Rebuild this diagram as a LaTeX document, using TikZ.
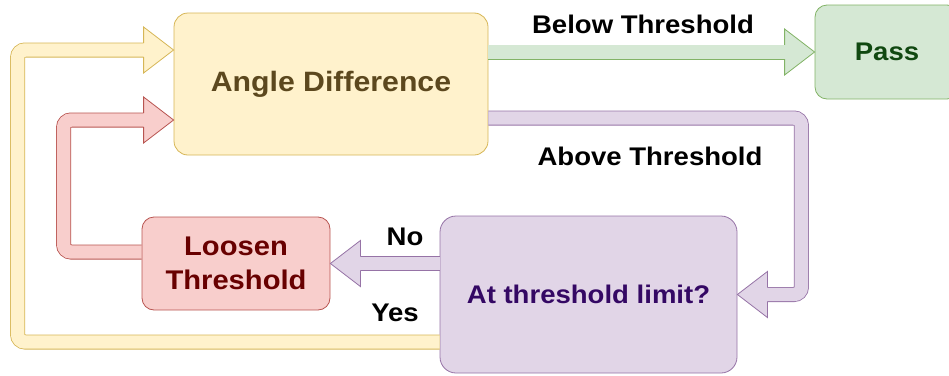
\documentclass[tikz,border=0pt]{standalone}
\usepackage{fontspec}
\setmainfont[FakeStretch=1.08]{Liberation Sans}
\definecolor{yelfill}{HTML}{FFF2CC}
\definecolor{yelline}{HTML}{D6B656}
\definecolor{grnfill}{HTML}{D5E8D4}
\definecolor{grnline}{HTML}{82B366}
\definecolor{purfill}{HTML}{E1D5E7}
\definecolor{purline}{HTML}{9673A6}
\definecolor{redfill}{HTML}{F8CECC}
\definecolor{redline}{HTML}{B85450}
\begin{document}
\begin{tikzpicture}[x=1pt,y=-1pt,
            box/.style={rectangle,draw,line width=0.8pt,rounded corners=14pt,align=center,font=\bfseries\fontsize{25.5}{30}\selectfont},
            fatline/.style={line width=0.8pt,double distance=13.4pt,rounded corners=7.5pt},
            lbl/.style={anchor=base,font=\bfseries\fontsize{25.5}{30}\selectfont},
            fathead/.pic={
                \path[pic actions,draw=none] (-30,-23) -- (0,0) -- (-30,23) -- cycle;
                \path[pic actions,fill=none] (-30,-7.1) -- (-30,-23) -- (0,0) -- (-30,23) -- (-30,7.1);
            }
        ]
            \useasboundingbox (0,0) rectangle (949,375);

            \node[box,fill=yelfill,draw=yelline,text={rgb,255:red,92;green,72;blue,30},minimum width=314pt,minimum height=142pt,font=\bfseries\fontsize{28}{32}\selectfont] (angle) at (331,84) {Angle Difference};
            \node[box,fill=grnfill,draw=grnline,text={rgb,255:red,16;green,72;blue,16},minimum width=144pt,minimum height=94pt,rounded corners=12pt] (pass) at (887,52) {Pass};
            \node[box,fill=purfill,draw=purline,text={rgb,255:red,52;green,8;blue,100},minimum width=297pt,minimum height=157pt,rounded corners=16pt] (limit) at (588.5,294.5) {At threshold limit?};
            \node[box,fill=redfill,draw=redline,text={rgb,255:red,104;green,0;blue,0},minimum width=188pt,minimum height=93pt,rounded corners=12pt,font=\bfseries\fontsize{27}{34}\selectfont] (loosen) at (236,263.5) {Loosen\\Threshold};

            \draw[fatline,draw=grnline,double=grnfill] (angle.east |- pass.west) -- ([xshift=-29pt]pass.west);
            \pic[fill=grnfill,draw=grnline,line width=0.8pt] at (pass.west) {fathead};

            \draw[fatline,draw=purline,double=purfill] ([yshift=-34pt]angle.east) -- ++(313,0) |- ([xshift=29pt]limit.east);
            \pic[rotate=180,fill=purfill,draw=purline,line width=0.8pt] at (limit.east) {fathead};

            \draw[fatline,draw=purline,double=purfill] (limit.west |- loosen.east) -- ([xshift=29pt]loosen.east);
            \pic[rotate=180,fill=purfill,draw=purline,line width=0.8pt] at (loosen.east) {fathead};

            \draw[fatline,draw=redline,double=redfill] ([yshift=11.5pt]loosen.west) -- ++(-78,0) |- ([xshift=-29pt,yshift=-36pt]angle.west);
            \pic[fill=redfill,draw=redline,line width=0.8pt] at ([yshift=-36pt]angle.west) {fathead};

            \draw[fatline,draw=yelline,double=yelfill] ([yshift=-47.5pt]limit.west) -- ++(-422,0) |- ([xshift=-29pt,yshift=34pt]angle.west);
            \pic[fill=yelfill,draw=yelline,line width=0.8pt] at ([yshift=34pt]angle.west) {fathead};

            \node[lbl] (below) at (643,33) {Below Threshold};
            \node[lbl] (above) at (650,165) {Above Threshold};
            \node[lbl] (no) at (405,245) {No};
            \node[lbl] (yes) at (395,321.5) {Yes};
        \end{tikzpicture}
\end{document}
